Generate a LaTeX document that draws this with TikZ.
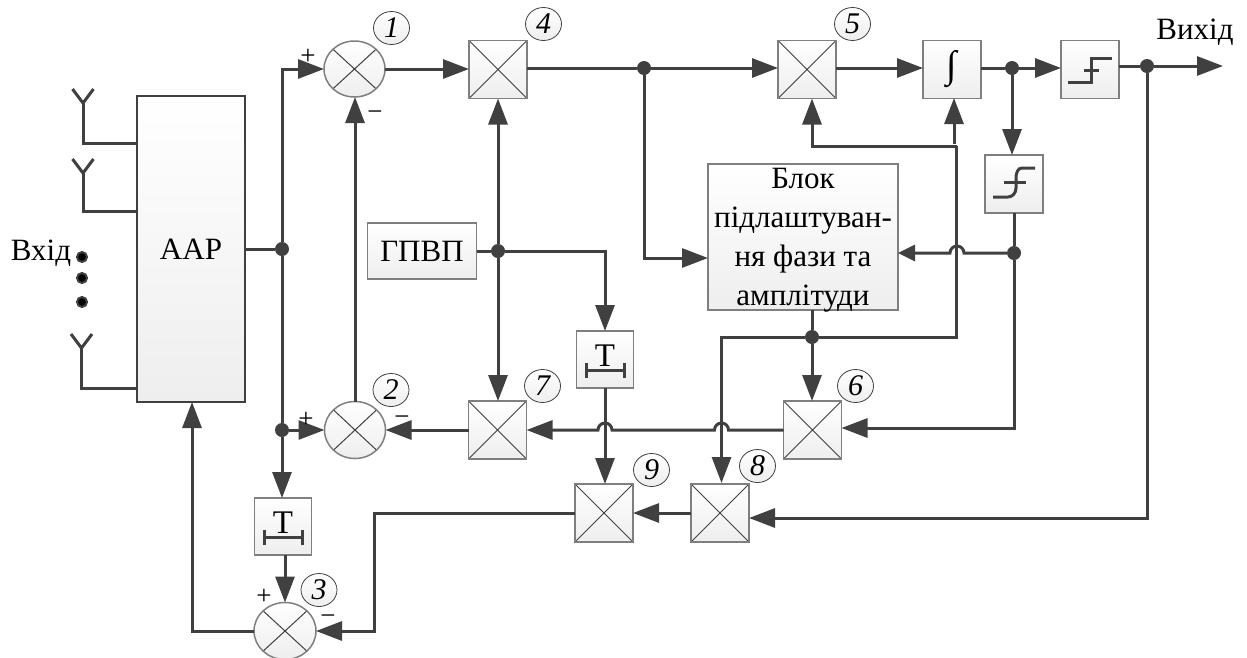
\documentclass[tikz,border=0pt]{standalone}
\usepackage{fontspec}
\setmainfont{Liberation Serif}
\usetikzlibrary{positioning,arrows.meta,calc,shapes.geometric}
\definecolor{wirecol}{HTML}{404040}
\definecolor{boxedge}{HTML}{7F7F7F}
\definecolor{boxlow}{HTML}{EEEEEE}

\begin{document}
\begin{tikzpicture}[
   x=1pt, y=-1pt,
   >={Triangle[length=26pt,width=19pt]},
   wire/.style={draw=wirecol, line width=3pt},
   block/.style={draw=boxedge, line width=1.5pt, top color=white, bottom color=boxlow,
                 inner sep=0pt, outer sep=0pt, align=center, font=\fontsize{31}{39}\selectfont},
   crossed/.style={path picture={\draw[wirecol, line width=1pt]
                 (path picture bounding box.north west) -- (path picture bounding box.south east)
                 (path picture bounding box.north east) -- (path picture bounding box.south west);}},
   mixer/.style={block, crossed, minimum width=58pt, minimum height=58pt},
   summer/.style={block, crossed, ellipse, minimum width=61pt, minimum height=57pt},
   square/.style={block, minimum width=58pt, minimum height=58pt},
   delay/.style={block, minimum width=57pt, minimum height=57pt, text height=26pt, text depth=13pt,
                 font=\fontsize{33}{39}\selectfont},
   junction/.style={circle, fill=wirecol, inner sep=0pt, minimum size=14pt},
   badge/.style={ellipse, draw=wirecol, line width=0.8pt, top color=white, bottom color=boxlow,
                 inner sep=0pt, minimum width=36pt, minimum height=33pt,
                 font=\fontsize{30}{30}\selectfont\itshape},
   sign/.style={inner sep=0pt, font=\fontsize{27}{27}\selectfont},
   caption/.style={inner sep=0pt, font=\fontsize{31}{36}\selectfont}]
  \useasboundingbox (0,0) rectangle (1247,657);

  % blocks
  \node[block, draw=wirecol, line width=2.5pt, minimum width=108pt, minimum height=306pt] (aar) at (191,249) {ААР};
  \node[summer, minimum height=56pt] (sumone) at (354.5,69) {};
  \node[mixer] (mulfour) at (498,69.5) {};
  \node[mixer, right=251pt of mulfour] (mulfive) {};
  \node[square, right=87pt of mulfive] (integ) {\raisebox{6pt}{\fontsize{38}{38}\selectfont ∫}};
  \node[square, right=80pt of integ] (hardlim) {};
  \node[square] (softlim) at (1014,184) {};
  \node[block, minimum width=190pt, minimum height=146pt] (phase) at (803,237)
      {\rule{0pt}{20pt}\smash{Блок}\\підлаштуван-\\ня фази та\\\leavevmode\smash{амплітуди}};
  \node[block, minimum width=109pt, minimum height=56pt] (gen) at (422,251) {ГПВП};
  \node[delay] (tone) at (605,359.5) {Т};
  \node[mixer] (mulseven) at (497.5,430) {};
  \node[summer, left=83pt of mulseven] (sumtwo) {};
  \node[mixer, right=257pt of mulseven] (mulsix) {};
  \node[mixer] (mulnine) at (604,513) {};
  \node[mixer, right=58pt of mulnine] (muleight) {};
  \node[delay] (ttwo) at (283,526.5) {Т};
  \node[summer, minimum width=62pt] (sumthree) at (285,631) {};

  % junctions
  \node[junction] (jaar) at (282,249) {};
  \node[junction] (jsum) at (282,430) {};
  \node[junction] (jgen) at (498,251) {};
  \node[junction] (jtop) at (644,68) {};
  \node[junction] (jint) at (1012,68) {};
  \node[junction] (jout) at (1147,66) {};
  \node[junction] (jlim) at (1014,253) {};
  \node[junction] (jphase) at (812,337) {};

  % bends
  \coordinate (outend) at (1223,66);
  \coordinate (feed) at (956.5,146);
  \coordinate (feedlow) at (956.5,337);
  \coordinate (inlow) at (374,513);

  \draw[wire] (aar.east |- jaar) -- (jaar);
  \draw[wire,->] (jaar) |- (sumone.west);
  \draw[wire] (jaar) -- (jsum);
  \draw[wire,->] (jsum) -- (sumtwo.west);
  \draw[wire,->] (jsum) -- (jsum |- ttwo.north);
  \draw[wire,->] (sumtwo.north) -- (sumtwo.north |- sumone.south);
  \draw[wire,->] (sumone.east) -- (sumone.east -| mulfour.west);
  \draw[wire] (mulfour.east |- jtop) -- (jtop);
  \draw[wire,->] (jtop) -- (jtop -| mulfive.west);
  \draw[wire,->] (mulfive.east |- jtop) -- (jtop -| integ.west);
  \draw[wire] (integ.east |- jint) -- (jint);
  \draw[wire,->] (jint) -- (jint -| hardlim.west);
  \draw[wire] (hardlim.east |- jout) -- (jout);
  \draw[wire,->] (jout) -- (outend);
  \draw[wire,->] (jint) -- (jint |- softlim.north);
  \draw[wire] (softlim.south) -- (jlim);
  \draw[wire,->] (jtop) |- (phase.west |- 0,258);
  \draw[wire,-{Triangle[length=17pt,width=16pt]}] (jlim) -- (964,253) arc[start angle=0, end angle=180, radius=7pt] -- (phase.east |- jlim);
  \draw[wire,->] (jlim) |- (mulsix.east |- 0,428);
  \draw[wire] (gen.east |- jgen) -- (jgen);
  \draw[wire,->] (jgen) -- (jgen |- mulfour.south);
  \draw[wire,->] (jgen) -- (jgen |- mulseven.north);
  \draw[wire,->] (jgen) -| (tone.north);
  \draw[wire,->] (tone.south) -- (tone.south |- mulnine.north);
  \draw[wire] (phase.south -| jphase) -- (jphase);
  \draw[wire,->] (jphase) -- (jphase |- mulsix.north);
  \draw[wire,->] (jphase) -| (721.5,483);
  \draw[wire] (jphase) -- (feedlow) -- (feed);
  \draw[wire,->] (feed) -| (jphase |- mulfive.south);
  \draw[wire,->] (954,144) -- (954,98);
  \draw[wire,->] (mulsix.west) -- (728.5,430) arc[start angle=0, end angle=180, radius=7pt]
      -- (612,430) arc[start angle=0, end angle=180, radius=7pt] -- (mulseven.east);
  \draw[wire,->] (mulseven.west) -- (sumtwo.east);
  \draw[wire,->] (jout) |- (muleight.east |- 0,518);
  \draw[wire,->] (muleight.west) -- (mulnine.east);
  \draw[wire,->] (mulnine.west) -| (inlow) |- (sumthree.east);
  \draw[wire,->] (ttwo.south -| sumthree.north) -- (sumthree.north);
  \draw[wire,->] (sumthree.west) -| (aar.south -| 192,0);

  % antennas
  \foreach \ax/\ay/\ex/\ey in {83/103/137/143, 83/173/137/211, 81.5/348/137/388} {
    \draw[wire] (\ax-10.5,\ay-14) -- (\ax,\ay) -- (\ax+10.5,\ay-14);
    \draw[wire] (\ax,\ay) |- (\ex,\ey);
  }
  \foreach \dy in {257,278,302} {
    \fill[black, draw=wirecol, line width=2pt] (82,\dy) circle[radius=5pt];
  }

  % step symbols
  \draw[wire, shift={(hardlim.center)}] (-22,12.5) -- (1,12.5) -- (1,-11.5) -- (22,-11.5);
  \draw[wire, shift={(hardlim.center)}] (-6,0.5) -- (9,0.5);
  \draw[wire, shift={(softlim.center)}] (-21,13) -- (-6,13) to[out=0, in=-90] (2,4) -- (2,-6)
      to[out=90, in=180] (8,-16) -- (21,-16);
  \draw[wire, shift={(softlim.center)}] (-10,-2) -- (12,-2);
  \foreach \tb in {tone,ttwo} {
    \draw[wire, shift={(\tb.center)}] (-19,10.5) -- (19,10.5) (-19,3) -- (-19,18) (19,3) -- (19,18);
  }

  % labels
  \node[caption] (input) at (41,253) {Вхід};
  \node[caption] (output) at (1195,32) {Вихід};
  \node[badge] (bone) at (391.5,28) {1};
  \node[badge] (btwo) at (391,390) {2};
  \node[badge] (bthree) at (319,590) {3};
  \node[badge] (bfour) at (543.5,24) {4};
  \node[badge] (bfive) at (852.5,24) {5};
  \node[badge] (bsix) at (855.5,386) {6};
  \node[badge] (bseven) at (542.5,386) {7};
  \node[badge] (beight) at (757.5,466) {8};
  \node[badge] (bnine) at (651.5,470) {9};
  \node[sign] (pone) at (308,57) {+};
  \node[sign] (mone) at (375,116) {−};
  \node[sign] (ptwo) at (306,420) {+};
  \node[sign] (mtwo) at (402,421) {−};
  \node[sign] (pthree) at (264,597) {+};
  \node[sign] (mthree) at (328,620) {−};
\end{tikzpicture}
\end{document}
